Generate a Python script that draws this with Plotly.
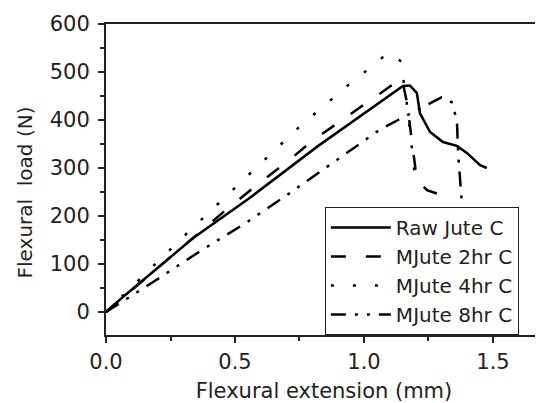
import plotly.graph_objects as go

# Flexural load vs extension
raw_x = [0.0, 0.074, 0.338, 0.558, 0.82, 1.151, 1.178, 1.205, 1.217, 1.256, 1.306, 1.36, 1.40, 1.45, 1.476]
raw_y = [0, 35, 154, 238, 345, 471, 472, 456, 414, 375, 354, 346, 331, 306, 300]

h2_x = [0.0, 0.2, 0.455, 0.584, 0.70, 0.803, 1.147, 1.167, 1.19, 1.205, 1.244, 1.295, 1.32]
h2_y = [0, 92, 208, 264, 312, 358, 487, 435, 331, 275, 254, 244, 240]

h4_x = [0.0, 0.1, 0.314, 0.752, 0.957, 1.027, 1.093, 1.147, 1.151, 1.17, 1.19, 1.2]
h4_y = [0, 52, 164, 387, 481, 510, 540, 521, 490, 420, 320, 270]

h8_x = [0.0, 0.19, 0.36, 0.546, 0.713, 1.062, 1.132, 1.22, 1.30, 1.34, 1.36, 1.365, 1.375, 1.385, 1.39]
h8_y = [0, 65, 125, 187, 248, 380, 400, 425, 447, 437, 400, 330, 260, 200, 150]

names = ["Raw Jute C", "MJute 2hr C", "MJute 4hr C", "MJute 8hr C"]
dashes = ["solid", "15px,20px", "3px,19px", "15px,9px,3px,9px,3px,9px"]

fig = go.Figure()
for xs, ys, nm, ds in zip([raw_x, h2_x, h4_x, h8_x], [raw_y, h2_y, h4_y, h8_y], names, dashes):
    fig.add_trace(go.Scatter(x=xs, y=ys, name=nm, mode="lines",
                             line=dict(color="black", width=2.5, dash=ds)))

ink = "#222"
font = dict(family="DejaVu Sans", size=21, color=ink)

# page body has an 8px margin, so the figure is sized 8px smaller
fig.update_layout(
    width=535, height=395,
    margin=dict(l=98, r=1, t=16, b=68),
    paper_bgcolor="white", plot_bgcolor="white",
    font=font,
    legend=dict(x=0.502, y=0, xanchor="left", yanchor="bottom",
                bordercolor=ink, borderwidth=1, bgcolor="white",
                itemwidth=60, font=dict(family="DejaVu Sans", size=20, color=ink),
                tracegroupgap=0),
    xaxis=dict(range=[0, 1.69], dtick=0.5, tickformat=".1f", showgrid=False, zeroline=False,
               showline=True, linecolor=ink, linewidth=2, mirror=True, automargin=False,
               ticks="outside", ticklen=6, tickwidth=2, tickcolor=ink, ticklabelstandoff=1,
               minor=dict(dtick=0.25, ticks="outside", ticklen=4, tickwidth=2, tickcolor=ink),
               title=dict(text="Flexural extension (mm)", font=dict(size=21), standoff=21)),
    yaxis=dict(range=[-48, 600], dtick=100, showgrid=False, zeroline=False,
               showline=True, linecolor=ink, linewidth=2, mirror=True, automargin=False,
               ticks="outside", ticklen=6, tickwidth=2, tickcolor=ink, ticklabelstandoff=4,
               minor=dict(dtick=50, ticks="outside", ticklen=4, tickwidth=2, tickcolor=ink)),
    xaxis2=dict(overlaying="x", side="top", matches="x", range=[0, 1.69], dtick=0.25,
                showticklabels=False, showgrid=False, zeroline=False, automargin=False,
                ticks="inside", ticklen=5, tickwidth=2, tickcolor=ink),
    yaxis2=dict(overlaying="y", side="right", range=[-48, 600], dtick=50,
                showticklabels=False, showgrid=False, zeroline=False, automargin=False,
                ticks="inside", ticklen=5, tickwidth=2, tickcolor=ink),
)

# y title sits a little below the plot centre in the reference
fig.add_annotation(text="Flexural  load (N)", textangle=-90, showarrow=False,
                   xref="paper", yref="paper", x=-0.186, y=0.458,
                   xanchor="center", yanchor="middle", font=dict(size=20))

fig.write_html("out.html")
